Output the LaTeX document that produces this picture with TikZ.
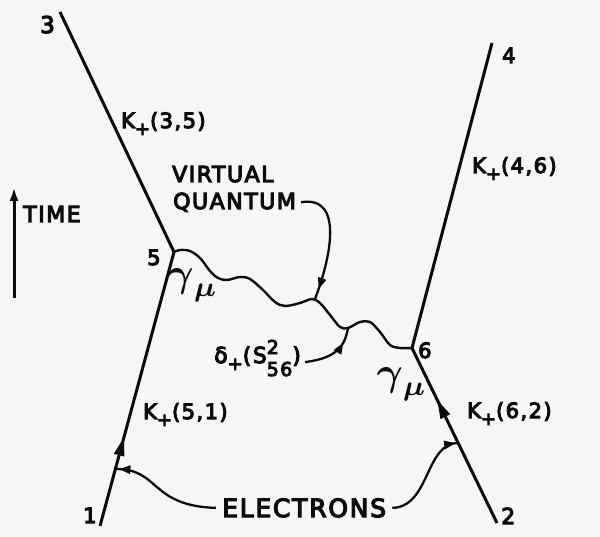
\documentclass[tikz,border=0pt]{standalone}
\usepackage{amsmath}
\usepackage{fontspec}
\setmainfont{DejaVu Sans}
\newfontfamily\lab[LetterSpace=7,FakeBold=5]{DejaVu Sans}
\usetikzlibrary{arrows.meta,decorations.markings}
\definecolor{bg}{RGB}{246,246,244}
\definecolor{ink}{RGB}{12,12,12}
\newcommand{\subplus}{\raisebox{-7pt}{\fontsize{18}{18}\selectfont +}}
\begin{document}
\begin{tikzpicture}[x=1pt,y=-1pt,
  elec/.style={line width=3pt,draw=ink},
  phot/.style={line width=2.4pt,draw=ink,line cap=round,line join=round},
  ptr/.style={line width=2.3pt,draw=ink},
  midarr/.style={postaction={decorate,decoration={markings,mark=at position #1 with {\fill[ink] (2pt,0pt) -- (-16pt,5.5pt) -- (-16pt,-5.5pt) -- cycle;}}}},
  ptrarr/.style={postaction={decorate,decoration={markings,mark=at position #1 with {\fill[ink] (1pt,0pt) -- (-10pt,4.5pt) -- (-10pt,-4.5pt) -- cycle;}}}},
  txt/.style={inner sep=0pt,anchor=base west,text=ink,font=\lab\fontsize{#1}{#1}\selectfont},
  gam/.style={inner sep=0pt,text=ink}
]
\fill[bg] (0,0) rectangle (600,537);
\useasboundingbox (0,0) rectangle (600,537);

% vertices and end points
\coordinate (v5) at (174,252);
\coordinate (v6) at (412,348);
\coordinate (p1) at (100,526);
\coordinate (p2) at (497,523);
\coordinate (p3) at (60,12);
\coordinate (p4) at (492,43);

% electron lines
\draw[elec] (p3) -- (v5);
\draw[elec,midarr=0.315] (p1) -- (v5);
\draw[elec] (v6) -- (p4);
\draw[elec,midarr=0.69] (p2) -- (v6);

% virtual photon
\draw[phot] plot[smooth,tension=0.55] coordinates {(v5) (180,250) (190,251) (200,258) (210,271) (218,278) (227,280) (240,277) (250,279) (263,290) (275,302) (285,306) (300,303) (312,299) (320,303) (330,315) (340,327) (348,328) (360,322) (370,322) (380,332) (390,345) (400,348) (v6)};
\coordinate (q1) at (315,299);
\coordinate (q2) at (348,328);
\coordinate (q3) at (116,469);
\coordinate (q4) at (458,443);

% time arrow
\coordinate (tb) at (14,298);
\coordinate (tt) at (14,187);
\draw[elec,-{Latex[length=14pt,width=9pt]}] (tb) -- (tt);
\node[txt=22] (time) at (23,222) {TIME};

% point labels
\node[txt=23] (n3) at (40,33) {3};
\node[txt=21] (n4) at (502,63) {4};
\node[txt=21] (n5) at (147,265) {5};
\node[txt=21] (n6) at (418,358) {6};
\node[txt=21] (n1) at (83,523) {1};
\node[txt=22] (n2) at (501,524) {2};

% propagator labels
\node[txt=21] (k35) at (121,128) {K\subplus(3,5)};
\node[txt=21] (k46) at (472,173) {K\subplus(4,6)};
\node[txt=21] (k51) at (143,419) {K\subplus(5,1)};
\node[txt=21] (k62) at (467,418) {K\subplus(6,2)};

% gamma mu
\node[gam] (g5) at (193,285) {\scalebox{4}{$\boldsymbol{\gamma}_{\boldsymbol{\mu}}$}};
\node[gam] (g6) at (402,384) {\scalebox{4}{$\boldsymbol{\gamma}_{\boldsymbol{\mu}}$}};

% delta label
\node[txt=22] (del) at (214,363) {δ\subplus(S\rlap{\raisebox{9pt}{\fontsize{19}{19}\selectfont 2}}\raisebox{-13pt}{\fontsize{19}{19}\selectfont 56})};

% virtual quantum
\node[txt=22] (vir) at (172,182) {VIRTUAL};
\node[txt=22] (qua) at (173,209) {QUANTUM};

% electrons
\node[txt=25] (el) at (222,517) {ELECTRONS};

% pointers
\draw[ptr,ptrarr=0.9] ([xshift=5pt]qua.east) .. controls (345,195) and (330,260) .. (q1);
\draw[ptr,ptrarr=0.72] ([xshift=4pt,yshift=-4pt]del.east) .. controls (338,358) and (345,345) .. (q2);
\draw[ptr,ptrarr=0.96] ([xshift=-6pt]el.west) .. controls (150,506) and (160,469) .. (q3);
\draw[ptr,ptrarr=0.96] ([xshift=6pt]el.east) .. controls (430,507) and (425,443) .. (q4);
\end{tikzpicture}
\end{document}
